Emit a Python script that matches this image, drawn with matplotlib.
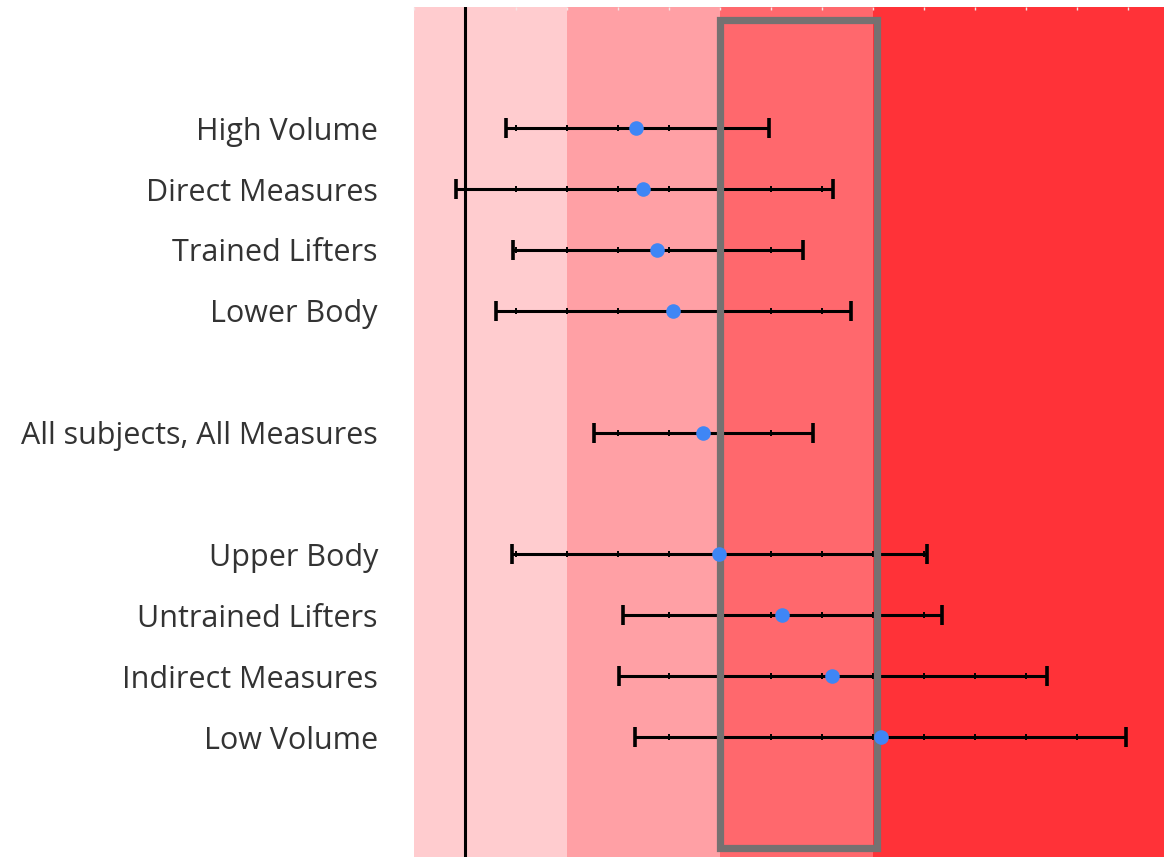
import numpy as np
import matplotlib
matplotlib.use("Agg")
import matplotlib.pyplot as plt
from matplotlib.patches import Rectangle

# Effect sizes with confidence intervals, one row per subgroup
labels = ["High Volume", "Direct Measures", "Trained Lifters", "Lower Body",
          "All subjects, All Measures",
          "Upper Body", "Untrained Lifters", "Indirect Measures", "Low Volume"]
rows = [0, 1, 2, 3, 5, 7, 8, 9, 10]
effect = [0.335, 0.349, 0.376, 0.408, 0.467, 0.498, 0.622, 0.720, 0.816]
ci_low = [0.080, -0.018, 0.094, 0.061, 0.253, 0.092, 0.310, 0.302, 0.333]
ci_high = [0.596, 0.722, 0.663, 0.757, 0.682, 0.906, 0.935, 1.141, 1.296]

# Effect-size magnitude bands (trivial, small, moderate, large)
band_edges = [-0.1, 0.2, 0.5, 0.8, 1.4]
band_colors = ["#FFCCCF", "#FFA0A5", "#FF686D", "#FF3238"]

plt.rcParams["font.family"] = ["Open Sans", "DejaVu Sans"]

fig = plt.figure(figsize=(11.64, 8.57), dpi=100)
ax = fig.add_axes([414 / 1164, 0.0, 1 - 414 / 1164, 1 - 7 / 857])

for lo, hi, c in zip(band_edges[:-1], band_edges[1:], band_colors):
    ax.axvspan(lo, hi, color=c, lw=0, zorder=0)

# zero line
ax.axvline(0, color="black", lw=2.2, zorder=2)

# highlighted moderate region
ax.add_patch(Rectangle((0.5, -1.77), 0.307, 13.59, fill=False,
                       edgecolor="#767171", lw=5.2, zorder=5))

# confidence intervals
ax.errorbar(effect, rows,
            xerr=[np.array(effect) - np.array(ci_low),
                  np.array(ci_high) - np.array(effect)],
            fmt="none", ecolor="black", elinewidth=2.2, capsize=7,
            capthick=2.6, zorder=3)

# small grid ticks along each interval line
grid = np.round(np.arange(-0.1, 1.41, 0.1), 2)
for lo, hi, r in zip(ci_low, ci_high, rows):
    g = grid[(grid > lo + 0.005) & (grid < hi - 0.005)]
    ax.plot(g, np.full(len(g), r), ls="none", marker="|", ms=4.5, mew=1.4,
            color="black", zorder=3)

ax.plot(effect, rows, "o", color="#3F86F5", ms=10.5, zorder=6, mec="none")

ax.set_yticks(rows)
ax.set_yticklabels(labels, fontsize=22, color="#333333")
ax.tick_params(axis="y", length=0, pad=26)

ax.set_xticks(grid[grid < 1.37])
ax.tick_params(axis="x", bottom=False, labelbottom=False, top=True,
               direction="in", length=2.5, width=1, color="#F2E6E6")

ax.set_xlim(-0.1, 1.37)
ax.set_ylim(11.97, -1.99)

for s in ax.spines.values():
    s.set_visible(False)

fig.savefig("out.png", dpi=100)
